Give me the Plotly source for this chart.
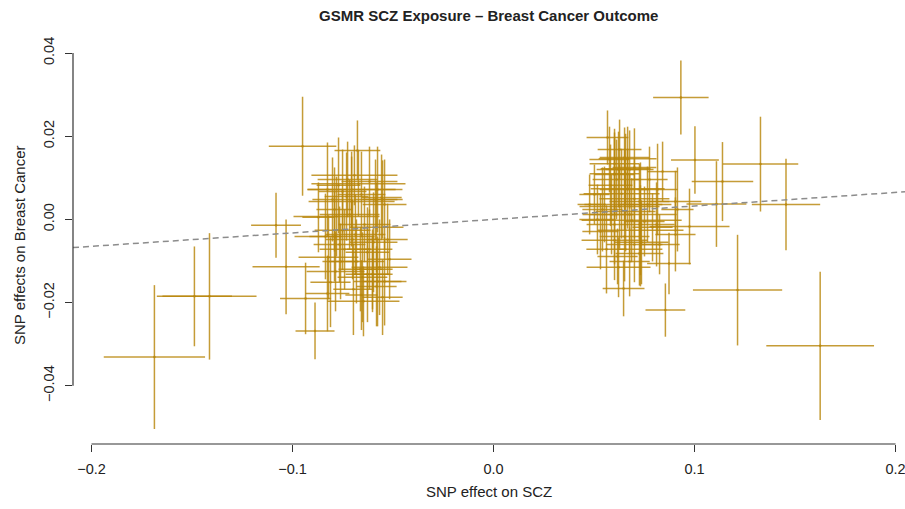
import plotly.graph_objects as go

# ---- data: SNP effects (bzx on SCZ, bzy on Breast Cancer) and their standard errors ----
bzx = [
    # left outliers
    -0.1687, -0.1488, -0.1413, -0.1082, -0.1032, -0.0950, -0.0935, -0.0888,
    # left cluster
    -0.0677, -0.0771, -0.0826, -0.0692, -0.0672, -0.0706, -0.0706, -0.0781, -0.0716, -0.0582,
    -0.0751, -0.0791, -0.0701, -0.0597, -0.0617, -0.0627, -0.0821, -0.0567, -0.0602, -0.0786,
    -0.0652, -0.0582, -0.0826, -0.0657, -0.0552, -0.0647, -0.0811, -0.0761, -0.0697, -0.0627,
    -0.0542, -0.0552, -0.0587, -0.0577, -0.0557, -0.0801, -0.0751, -0.0731, -0.0657, -0.0791,
    -0.0871, -0.0836, -0.0517, -0.0662, -0.0602, -0.0741, -0.0682, -0.0726, -0.0617, -0.0642,
    -0.0527, -0.0766, -0.0577, -0.0542, -0.0687,
    # right cluster
    0.0567, 0.0622, 0.0602, 0.0677, 0.0701, 0.0652, 0.0582, 0.0816, 0.0811, 0.0766,
    0.0731, 0.0542, 0.0915, 0.0652, 0.0667, 0.0602, 0.0657, 0.0841, 0.0602, 0.0612,
    0.0667, 0.0637, 0.0701, 0.0627, 0.0657, 0.0677, 0.0726, 0.0687, 0.0602, 0.0731,
    0.0652, 0.0602, 0.0736, 0.0562, 0.0726, 0.0617, 0.0677, 0.0622, 0.0731, 0.0532,
    0.0791, 0.0905, 0.0905, 0.0647, 0.0873, 0.0855, 0.0502, 0.0517, 0.0776, 0.0552,
    0.0587, 0.0751, 0.0826, 0.0701, 0.0478, 0.0577, 0.0627,
    # right outliers
    0.0932, 0.1002, 0.1328, 0.1139, 0.1455, 0.1109, 0.0975, 0.1214, 0.1625,
]
bzy = [
    -0.0331, -0.0185, -0.0185, -0.0014, -0.0114, 0.0176, -0.0190, -0.0268,
    0.0166, 0.0082, 0.0072, 0.0106, 0.0086, 0.0072, 0.0043, 0.0007, 0.0012, -0.0019,
    -0.0026, -0.0041, -0.0048, -0.0055, -0.0072, -0.0079, -0.0091, -0.0115, -0.0120, -0.0125,
    -0.0139, -0.0161, -0.0178, -0.0182, -0.0187, -0.0197, -0.0151, -0.0101, -0.0168, -0.0132,
    0.0036, 0.0048, 0.0048, 0.0072, 0.0053, 0.0048, 0.0067, 0.0055, 0.0060, 0.0024,
    0.0005, -0.0041, -0.0096, -0.0120, -0.0132, -0.0072, -0.0101, 0.0096, 0.0091, -0.0012,
    -0.0048, -0.0060, -0.0149, -0.0149, -0.0036,
    0.0197, 0.0120, 0.0108, 0.0120, 0.0125, 0.0072, 0.0082, 0.0072, -0.0012, 0.0036,
    0.0036, 0.0024, 0.0024, 0.0149, 0.0146, 0.0134, 0.0122, 0.0115, 0.0110, 0.0096,
    0.0074, 0.0062, 0.0050, 0.0031, 0.0019, 0.0012, 0.0043, -0.0002, -0.0012, -0.0026,
    -0.0041, -0.0050, -0.0055, -0.0072, -0.0082, -0.0089, -0.0101, -0.0115, -0.0072, -0.0029,
    -0.0019, 0.0043, -0.0036, -0.0166, -0.0106, -0.0218, 0.0060, 0.0000, 0.0096, 0.0036,
    0.0012, -0.0005, -0.0060, -0.0060, 0.0036, 0.0144, 0.0168,
    0.0293, 0.0143, 0.0133, 0.0091, 0.0036, 0.0037, -0.0017, -0.0170, -0.0304,
]
se_zx = [
    0.0252, 0.0187, 0.0234, 0.0124, 0.0167, 0.0168, 0.0127, 0.0097,
    0.0114, 0.0109, 0.0100, 0.0214, 0.0234, 0.0219, 0.0214, 0.0214, 0.0149, 0.0134,
    0.0139, 0.0199, 0.0134, 0.0119, 0.0114, 0.0109, 0.0149, 0.0139, 0.0100, 0.0144,
    0.0124, 0.0100, 0.0109, 0.0080, 0.0100, 0.0179, 0.0100, 0.0090, 0.0100, 0.0109,
    0.0109, 0.0100, 0.0109, 0.0124, 0.0100, 0.0100, 0.0119, 0.0109, 0.0119, 0.0090,
    0.0080, 0.0080, 0.0109, 0.0109, 0.0100, 0.0124, 0.0139, 0.0149, 0.0139, 0.0129,
    0.0100, 0.0129, 0.0119, 0.0109, 0.0149,
    0.0104, 0.0109, 0.0100, 0.0119, 0.0109, 0.0124, 0.0109, 0.0100, 0.0090, 0.0119,
    0.0109, 0.0100, 0.0080, 0.0124, 0.0144, 0.0124, 0.0124, 0.0075, 0.0124, 0.0119,
    0.0184, 0.0189, 0.0174, 0.0199, 0.0149, 0.0234, 0.0149, 0.0249, 0.0139, 0.0214,
    0.0124, 0.0164, 0.0134, 0.0100, 0.0119, 0.0100, 0.0100, 0.0159, 0.0109, 0.0090,
    0.0100, 0.0129, 0.0100, 0.0104, 0.0109, 0.0099, 0.0075, 0.0090, 0.0090, 0.0100,
    0.0109, 0.0100, 0.0100, 0.0139, 0.0060, 0.0100, 0.0109,
    0.0138, 0.0119, 0.0188, 0.0153, 0.0170, 0.0149, 0.0199, 0.0222, 0.0268,
]
se_zy = [
    0.0173, 0.0120, 0.0152, 0.0078, 0.0114, 0.0119, 0.0086, 0.0068,
    0.0072, 0.0115, 0.0113, 0.0072, 0.0079, 0.0091, 0.0108, 0.0096, 0.0084, 0.0108,
    0.0096, 0.0108, 0.0096, 0.0120, 0.0096, 0.0108, 0.0101, 0.0115, 0.0096, 0.0096,
    0.0108, 0.0096, 0.0091, 0.0084, 0.0091, 0.0084, 0.0108, 0.0091, 0.0110, 0.0115,
    0.0108, 0.0094, 0.0096, 0.0103, 0.0103, 0.0101, 0.0101, 0.0106, 0.0103, 0.0101,
    0.0084, 0.0103, 0.0096, 0.0101, 0.0091, 0.0096, 0.0101, 0.0091, 0.0084, 0.0091,
    0.0086, 0.0091, 0.0108, 0.0106, 0.0096,
    0.0065, 0.0091, 0.0101, 0.0094, 0.0094, 0.0098, 0.0098, 0.0110, 0.0101, 0.0091,
    0.0101, 0.0101, 0.0101, 0.0072, 0.0077, 0.0084, 0.0084, 0.0072, 0.0084, 0.0096,
    0.0096, 0.0108, 0.0096, 0.0101, 0.0096, 0.0096, 0.0091, 0.0101, 0.0096, 0.0108,
    0.0108, 0.0096, 0.0101, 0.0106, 0.0077, 0.0067, 0.0084, 0.0072, 0.0089, 0.0091,
    0.0082, 0.0074, 0.0089, 0.0067, 0.0074, 0.0064, 0.0072, 0.0084, 0.0079, 0.0091,
    0.0096, 0.0084, 0.0072, 0.0091, 0.0072, 0.0079, 0.0072,
    0.0089, 0.0081, 0.0114, 0.0095, 0.0110, 0.0103, 0.0091, 0.0133, 0.0178,
]
bxy = 0.0324  # GSMR estimate (slope of dashed line through origin)

x_tickvals = [-0.2, -0.1, 0.0, 0.1, 0.2]
x_ticktext = ["\u22120.2", "\u22120.1", "0.0", "0.1", "0.2"]
y_tickvals = [-0.04, -0.02, 0.0, 0.02, 0.04]
y_ticktext = ["\u22120.04", "\u22120.02", "0.00", "0.02", "0.04"]

title_text = "GSMR SCZ Exposure \u2013 Breast Cancer Outcome"
x_title = "SNP effect on SCZ"
y_title = "SNP effects on Breast Cancer"

# ---- figure ----
xr = [-0.2092, 0.2047]
yr = [-0.0540, 0.0417]
gold = "rgba(184,134,11,0.82)"
axis_col = "#333333"
font = "Liberation Sans, Arial, Helvetica, sans-serif"

fig = go.Figure()
fig.add_trace(go.Scatter(
    x=bzx, y=bzy, mode="markers",
    marker=dict(size=2.5, color=gold),
    error_x=dict(type="data", array=se_zx, symmetric=True, width=0, thickness=1.5, color=gold),
    error_y=dict(type="data", array=se_zy, symmetric=True, width=0, thickness=1.5, color=gold),
    showlegend=False, hoverinfo="skip", cliponaxis=False,
))
fig.add_trace(go.Scatter(
    x=xr, y=[bxy * v for v in xr], mode="lines",
    line=dict(color="#8c8c8c", width=1.5, dash="6px,4px"),
    showlegend=False, hoverinfo="skip",
))

# R-style axis segments spanning only the tick range
fig.add_shape(type="line", xref="x", yref="paper", x0=x_tickvals[0], x1=x_tickvals[-1], y0=0, y1=0,
              line=dict(color=axis_col, width=1.2))
fig.add_shape(type="line", xref="paper", yref="y", x0=0, x1=0, y0=y_tickvals[0], y1=y_tickvals[-1],
              line=dict(color=axis_col, width=1.2))

fig.update_xaxes(range=xr, showgrid=False, zeroline=False, showline=False, automargin=False,
                 tickvals=x_tickvals, ticktext=x_ticktext, ticks="outside", ticklen=7,
                 tickwidth=1.2, tickcolor=axis_col, ticklabelstandoff=5,
                 ticklabeloverflow="allow",
                 tickfont=dict(family=font, size=14.5, color="#222222"))
fig.update_yaxes(range=yr, showgrid=False, zeroline=False, showline=False, automargin=False,
                 tickvals=y_tickvals, ticktext=y_ticktext, ticks="outside", ticklen=7,
                 tickwidth=1.2, tickcolor=axis_col, tickangle=-90, ticklabelstandoff=5,
                 ticklabeloverflow="allow",
                 tickfont=dict(family=font, size=14.5, color="#222222"))

fig.add_annotation(text=x_title, xref="paper", yref="paper", x=0.5, y=-0.1206,
                   xanchor="center", yanchor="middle", showarrow=False,
                   font=dict(family=font, size=15, color="#222222"))
fig.add_annotation(text=y_title, xref="paper", yref="paper", x=-0.0649, y=0.5,
                   xanchor="center", yanchor="middle", showarrow=False, textangle=-90,
                   font=dict(family=font, size=15, color="#222222"))

fig.update_layout(
    width=905, height=509,
    margin=dict(l=73, r=0, t=46, b=65, autoexpand=False),
    plot_bgcolor="white", paper_bgcolor="white",
    title=dict(text="<b>" + title_text + "</b>", x=0.540, xanchor="center",
               y=1 - 16 / 509, yanchor="middle", yref="container",
               font=dict(family=font, size=15, color="#222222")),
    font=dict(family=font),
)

fig.write_html("out.html", config={"displayModeBar": False},
               post_script="document.body.style.margin='0';document.body.style.overflow='hidden';")
